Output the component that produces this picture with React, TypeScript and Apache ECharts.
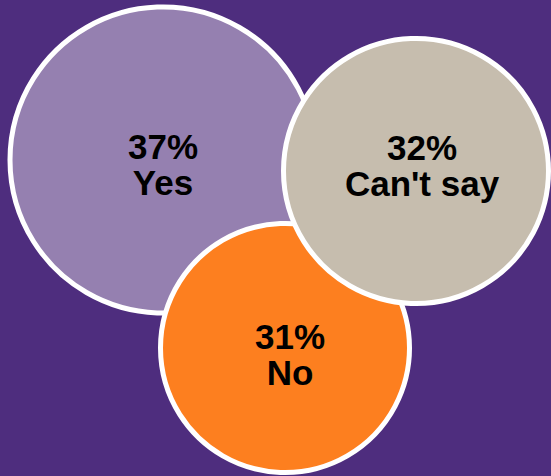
import React, { useEffect, useRef } from "react";
import * as echarts from "echarts";

// ---- data ----
const categories = ["Yes", "Can't say", "No"];
const shares = [37, 32, 31]; // percent

// ---- layout (bubble placement in axis units, sizes, stacking) ----
const bubbleX = [163, 416, 285];
const bubbleY = [160, 171, 348];
const bubbleDiameter = [306, 265, 249];
const bubbleZ = [1, 3, 2];
const labelOffset: [number, number][] = [
  [0, 4],
  [6, -6],
  [5, 6],
];
const bubbleColors = ["#9580b0", "#c6bdae", "#fd7f1f"];

export default function App() {
  const ref = useRef<HTMLDivElement>(null);

  useEffect(() => {
    if (!ref.current) return;
    const chart = echarts.init(ref.current, undefined, { renderer: "svg" });

    const series = categories.map((name, i) => ({
      type: "scatter",
      name,
      z: bubbleZ[i],
      symbol: "circle",
      symbolSize: bubbleDiameter[i],
      itemStyle: {
        color: bubbleColors[i],
        opacity: 1,
        borderColor: "#ffffff",
        borderWidth: 5,
      },
      label: {
        show: true,
        position: "inside",
        offset: labelOffset[i],
        formatter: () => `${shares[i]}%\n${name}`,
        color: "#000000",
        fontFamily: "Liberation Sans, Arial, sans-serif",
        fontWeight: "bold",
        fontSize: 35,
        lineHeight: 36,
        align: "center",
      },
      emphasis: { disabled: true },
      data: [[bubbleX[i], bubbleY[i], shares[i]]],
    }));

    chart.setOption({
      animation: false,
      backgroundColor: "#4e2d7e",
      grid: { left: 0, right: 0, top: 0, bottom: 0 },
      xAxis: { type: "value", min: 0, max: 551, show: false },
      yAxis: { type: "value", min: 0, max: 476, inverse: true, show: false },
      series,
    });

    return () => chart.dispose();
  }, []);

  return (
    <div
      ref={ref}
      style={{ position: "fixed", left: 0, top: 0, width: 551, height: 476 }}
    />
  );
}
